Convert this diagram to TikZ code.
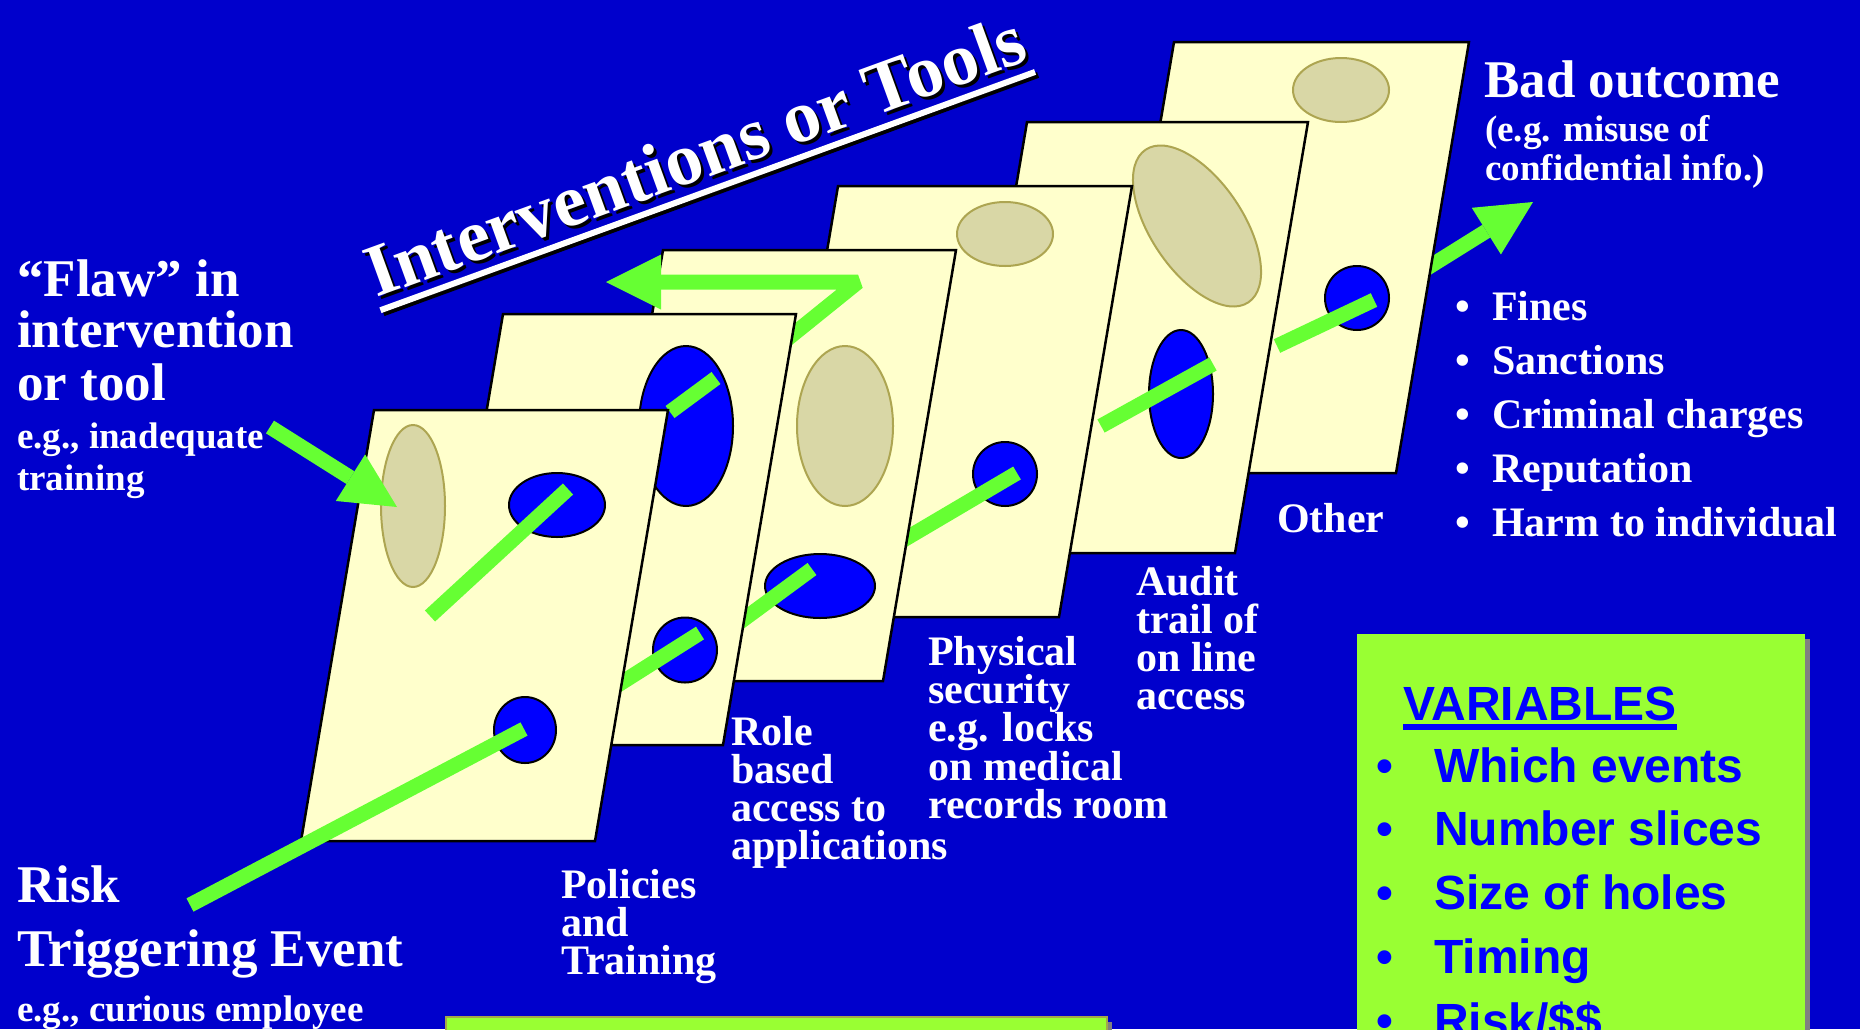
\documentclass[tikz,border=0pt]{standalone}
\usepackage{fontspec}
\setmainfont{Liberation Serif}
\newfontfamily\arialfont{Liberation Sans}
\usepackage{xcolor}
\usepackage{tikz}
\usetikzlibrary{arrows.meta, positioning, shapes.geometric}
\definecolor{slidebg}{HTML}{0000CC}
\definecolor{cheese}{HTML}{FFFFCC}
\definecolor{holeblue}{HTML}{0000FF}
\definecolor{tanfill}{HTML}{D9D7A6}
\definecolor{tanline}{HTML}{ADA551}
\definecolor{pathgreen}{HTML}{66FF33}
\definecolor{boxgreen}{HTML}{99FF33}
\definecolor{boxedge}{HTML}{A3A84A}
\definecolor{shadowgray}{HTML}{808080}

% one slice of cheese: top-left corner, width
\newcommand{\cheeseslice}[3]{%
  \draw[slice] (#1,#2) -- ++(#3,0) -- ++(-73,431) -- ++(-#3,0) -- cycle;}

\begin{document}
\begin{tikzpicture}[
  x=1pt, y=-1pt,
  slice/.style={fill=cheese, draw=black, line width=2.5pt},
  hole/.style={ellipse, inner sep=0pt, line width=2pt},
  bluehole/.style={hole, draw=black, fill=holeblue},
  tanhole/.style={hole, draw=tanline, fill=tanfill},
  bar/.style={draw=pathgreen, line width=15pt},
  tip/.style={-{Triangle[length=55pt, width=55pt, line width=0pt]}},
  big/.style={font=\fontsize{53pt}{53pt}\selectfont\bfseries, text=white,
              anchor=base west, inner sep=0pt},
  eg/.style={big, font=\fontsize{37pt}{37pt}\selectfont\bfseries},
  lbl/.style={big, font=\fontsize{42pt}{42pt}\selectfont\bfseries},
  var/.style={font=\arialfont\fontsize{48pt}{48pt}\selectfont\bfseries,
              text=holeblue, anchor=base west, inner sep=0pt},
  title/.style={font=\fontsize{74pt}{74pt}\selectfont\bfseries,
                anchor=base west, inner sep=0pt, transform shape}
]
  \useasboundingbox (0,0) rectangle (1860,1029);
  \clip (0,0) rectangle (1860,1029);
  \fill[slidebg] (0,0) rectangle (1860,1029);

  % heading with drop shadow
  \foreach \col/\d in {black/3, white/0} {
    \begin{scope}[shift={(376+\d,298+\d)}, rotate=20]
      \node[title, text=\col] (ttl) at (0,0) {Interventions or Tools};
      \draw[\col, line width=6pt] ([yshift=-13pt]ttl.base west) -- ([yshift=-13pt]ttl.base east);
    \end{scope}
  }

  % slices, back to front
  \draw[bar, tip] (1400,285) -- (1533,202);
  \cheeseslice{1174}{42}{295}
  \node[tanhole, minimum width=96pt, minimum height=64pt] (h6a) at (1341,90) {};
  \node[bluehole, minimum width=64pt, minimum height=64pt] (h6b) at (1357,298) {};
  \draw[bar] (1374,300) -- (1277,346);

  \cheeseslice{1027}{122}{281}
  \node[tanhole, minimum width=184pt, minimum height=92pt, rotate=-56] (h5a) at (1197,226) {};
  \node[bluehole, minimum width=64pt, minimum height=128pt] (h5b) at (1181,394) {};
  \draw[bar] (1213,364) -- (1101,426);

  \cheeseslice{838}{186}{294}
  \node[tanhole, minimum width=96pt, minimum height=64pt] (h4a) at (1005,234) {};
  \node[bluehole, minimum width=64pt, minimum height=64pt] (h4b) at (1005,474) {};
  \draw[bar] (1017,473) -- (900,542);

  \cheeseslice{663}{250}{293}
  \node[tanhole, minimum width=96pt, minimum height=160pt] (h3a) at (845,426) {};
  \node[bluehole, minimum width=110pt, minimum height=64pt] (h3b) at (820,586) {};
  \draw[bar] (812,569) -- (740,622);
  \draw[bar, tip, line join=bevel] (770,353) -- (858,282) -- (606,282);

  \cheeseslice{503}{314}{293}
  \node[bluehole, minimum width=94pt, minimum height=160pt] (h2a) at (686,426) {};
  \node[bluehole, minimum width=64pt, minimum height=65pt] (h2b) at (685,650) {};
  \draw[bar] (716,378) -- (670,412);
  \draw[bar] (700,633) -- (610,690);

  \cheeseslice{374}{410}{294}
  \node[tanhole, minimum width=64pt, minimum height=162pt] (h1a) at (413,506) {};
  \node[bluehole, minimum width=96pt, minimum height=64pt] (h1b) at (557,505) {};
  \node[bluehole, minimum width=62pt, minimum height=66pt] (h1c) at (525,730) {};
  \draw[bar] (568,489) -- (430,616);
  \draw[bar] (524,729) -- (190,905);

  \draw[bar, tip] (270,427) -- (397,507);

  % left side texts
  \node[big] (flaw1) at (17,296) {“Flaw” in};
  \node[big] (flaw2) at (17,347) {intervention};
  \node[big] (flaw3) at (17,400) {or tool};
  \node[eg] (flaw4) at (17,448) {e.g., inadequate};
  \node[eg] (flaw5) at (17,490) {training};

  \node[big] (risk1) at (17,902) {Risk};
  \node[big] (risk2) at (17,966) {Triggering Event};
  \node[eg] (risk3) at (17,1021) {e.g., curious employee};

  % slice names
  \foreach \t [count=\i from 0] in {Policies, and, Training}
    \node[lbl] (pol\i) at (561, 898+38*\i) {\t};
  \foreach \t [count=\i from 0] in {Role, based, access to, applications}
    \node[lbl] (role\i) at (731, 745+38.2*\i) {\t};
  \foreach \t [count=\i from 0] in {Physical, security, e.g. locks, on medical, records room}
    \node[lbl] (phys\i) at (928, 665+38.4*\i) {\t};
  \foreach \t [count=\i from 0] in {Audit, trail of, on line, access}
    \node[lbl] (aud\i) at (1136, 595+38*\i) {\t};
  \node[lbl] (other) at (1277,532) {Other};

  % outcome
  \node[big] (bad) at (1484,97) {Bad outcome};
  \node[eg] (bad1) at (1485,141) {(e.g. misuse of};
  \node[eg] (bad2) at (1485,180) {confidential info.)};
  \foreach \t [count=\i from 0] in {Fines, Sanctions, Criminal charges, Reputation, Harm to individual} {
    \node[lbl, anchor=base] (dot\i) at (1463, 320+54.2*\i) {\textbullet};
    \node[lbl] (res\i) at (1492, 320+54.2*\i) {\t};
  }

  % variables box
  \fill[shadowgray] (1362,639) rectangle (1810,1040);
  \fill[boxgreen] (1357,634) rectangle (1805,1040);
  \node[var] (vars) at (1403,720) {VARIABLES};
  \draw[holeblue, line width=6pt] ([yshift=-6.5pt]vars.base west) -- ([yshift=-6.5pt]vars.base east);
  \foreach \t [count=\i from 0] in {Which events, Number slices, Size of holes, Timing, Risk/\$\$} {
    \node[var, anchor=base] (vdot\i) at (1385, 782+63.8*\i) {\textbullet};
    \node[var] (var\i) at (1434, 782+63.8*\i) {\t};
  }

  % lower box
  \fill[shadowgray] (451,1022) rectangle (1112,1040);
  \filldraw[fill=boxgreen, draw=boxedge, line width=2pt] (446,1017) rectangle (1107,1040);
\end{tikzpicture}
\end{document}
